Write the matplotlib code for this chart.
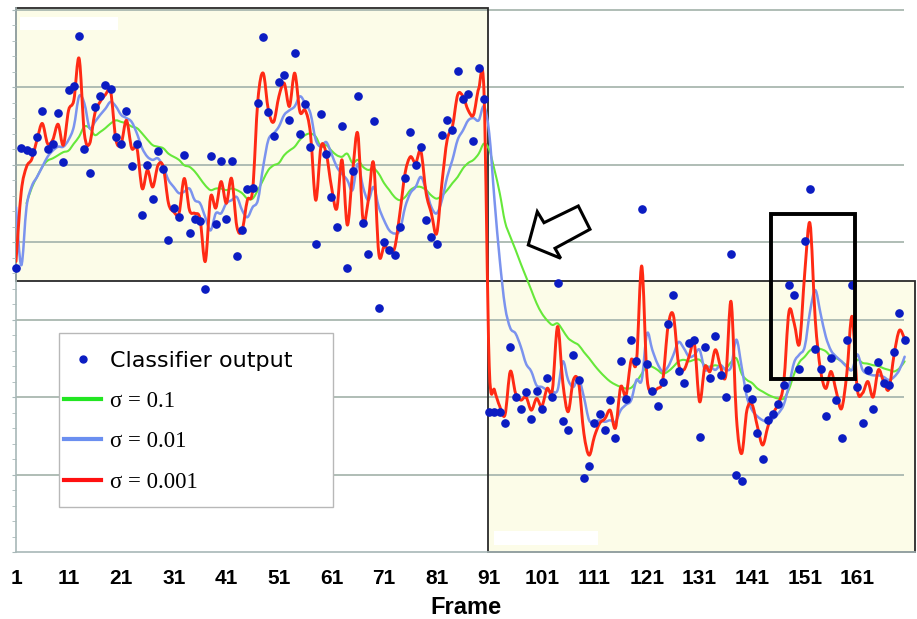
import numpy as np
import matplotlib.pyplot as plt
from matplotlib.patches import Rectangle, Polygon, PathPatch
from matplotlib.path import Path
from matplotlib.lines import Line2D
from matplotlib.ticker import MultipleLocator

# frame numbers and values
frames = list(range(1, 171))

classifier = [
    3.66, 5.21, 5.19, 5.16, 5.35, 5.69, 5.20, 5.26, 5.66, 5.03,
    5.96, 6.01, 6.66, 5.20, 4.89, 5.74, 5.88, 6.02, 5.97, 5.36,
    5.26, 5.69, 4.98, 5.26, 4.35, 5.00, 4.56, 5.18, 4.94, 4.02,
    4.44, 4.32, 5.12, 4.12, 4.30, 4.27, 3.39, 5.11, 4.23, 5.05,
    4.30, 5.05, 3.82, 4.15, 4.68, 4.70, 5.80, 6.65, 5.68, 5.37,
    6.07, 6.15, 5.57, 6.44, 5.39, 5.78, 5.23, 3.98, 5.65, 5.13,
    4.58, 4.20, 5.50, 3.67, 4.92, 5.89, 4.25, 3.85, 5.56, 3.15,
    4.00, 3.90, 3.83, 4.20, 4.83, 5.42, 5.00, 5.23, 4.28, 4.07,
    3.97, 5.38, 5.57, 5.45, 6.21, 5.84, 5.91, 5.30, 6.25, 5.84,
    1.81, 1.81, 1.81, 1.67, 2.65, 2.00, 1.84, 2.07, 1.71, 2.08,
    1.85, 2.24, 2.00, 3.47, 1.69, 1.58, 2.54, 2.22, 0.96, 1.11,
    1.67, 1.78, 1.57, 1.96, 1.47, 2.46, 1.97, 2.74, 2.46, 4.42,
    2.43, 2.08, 1.88, 2.19, 2.94, 3.31, 2.34, 2.18, 2.70, 2.73,
    1.48, 2.65, 2.24, 2.79, 2.28, 2.00, 3.85, 1.00, 0.91, 2.11,
    1.97, 1.53, 1.20, 1.70, 1.78, 1.91, 2.15, 3.45, 3.31, 2.36,
    4.01, 4.68, 2.62, 2.36, 1.75, 2.50, 1.96, 1.47, 2.73, 3.45,
    2.13, 1.67, 2.35, 1.85, 2.45, 2.18, 2.15, 2.58, 3.09, 2.74,
]

sigma_001 = [
    3.75, 4.65, 4.97, 5.07, 5.32, 5.53, 5.27, 5.32, 5.52, 5.25,
    5.70, 5.83, 6.37, 5.40, 5.27, 5.66, 5.81, 5.90, 5.94, 5.32,
    5.27, 5.57, 5.21, 5.21, 4.69, 4.93, 4.71, 4.99, 4.97, 4.50,
    4.39, 4.37, 4.82, 4.41, 4.37, 4.30, 3.75, 4.58, 4.44, 4.78,
    4.50, 4.82, 4.20, 4.15, 4.54, 4.67, 5.83, 6.18, 5.70, 5.55,
    5.88, 6.05, 5.75, 6.18, 5.68, 5.70, 5.40, 4.54, 5.23, 5.14,
    4.71, 4.43, 5.06, 4.22, 4.89, 5.40, 4.28, 4.54, 5.02, 3.85,
    3.94, 3.90, 3.92, 4.37, 4.89, 5.10, 5.02, 5.17, 4.63, 4.37,
    4.11, 4.76, 5.32, 5.49, 5.90, 5.88, 5.70, 5.64, 5.98, 5.94,
    2.40, 2.09, 1.88, 1.77, 2.33, 2.05, 1.96, 2.00, 1.83, 1.98,
    1.88, 2.11, 2.09, 2.91, 2.18, 1.81, 2.22, 2.18, 1.53, 1.25,
    1.49, 1.66, 1.72, 1.83, 1.60, 2.13, 2.02, 2.48, 2.46, 3.69,
    2.26, 2.09, 2.11, 2.22, 2.91, 3.06, 2.43, 2.35, 2.52, 2.69,
    1.94, 2.39, 2.33, 2.61, 2.39, 2.28, 3.23, 1.75, 1.27, 1.83,
    1.90, 1.62, 1.38, 1.62, 1.79, 1.92, 2.18, 3.10, 2.95, 2.69,
    3.60, 4.24, 3.00, 2.35, 2.11, 2.33, 2.07, 1.85, 2.30, 3.04,
    2.10, 2.05, 2.20, 2.00, 2.35, 2.20, 2.10, 2.55, 2.86, 2.75,
]

sigma_01 = [
    4.45, 3.70, 4.45, 4.72, 4.84, 4.97, 5.10, 5.18, 5.23, 5.23,
    5.32, 5.49, 5.88, 5.79, 5.47, 5.55, 5.64, 5.72, 5.81, 5.75,
    5.64, 5.60, 5.55, 5.40, 5.21, 5.10, 5.06, 5.08, 4.97, 4.80,
    4.71, 4.63, 4.65, 4.69, 4.54, 4.50, 4.32, 4.15, 4.37, 4.37,
    4.50, 4.54, 4.58, 4.41, 4.32, 4.45, 4.54, 4.97, 5.32, 5.40,
    5.49, 5.64, 5.70, 5.75, 5.88, 5.79, 5.66, 5.32, 5.23, 5.29,
    5.14, 4.97, 4.88, 4.80, 4.67, 5.01, 4.71, 4.54, 4.71, 4.45,
    4.28, 4.15, 4.11, 4.15, 4.45, 4.63, 4.71, 4.84, 4.67, 4.45,
    4.37, 4.54, 4.84, 5.06, 5.32, 5.44, 5.57, 5.60, 5.57, 5.75,
    5.40, 4.54, 3.77, 3.17, 2.89, 2.82, 2.65, 2.43, 2.33, 2.15,
    2.13, 2.09, 2.07, 2.09, 2.46, 2.22, 2.13, 2.24, 2.00, 1.70,
    1.68, 1.70, 1.68, 1.70, 1.68, 1.83, 1.90, 1.96, 2.22, 2.22,
    2.82, 2.61, 2.43, 2.33, 2.39, 2.54, 2.71, 2.63, 2.52, 2.54,
    2.61, 2.35, 2.39, 2.35, 2.41, 2.35, 2.39, 2.74, 2.39, 2.00,
    1.83, 1.75, 1.70, 1.68, 1.72, 1.79, 1.90, 2.15, 2.45, 2.55,
    2.65, 3.10, 3.38, 3.08, 2.78, 2.60, 2.52, 2.46, 2.39, 2.35,
    2.55, 2.35, 2.30, 2.28, 2.28, 2.26, 2.22, 2.26, 2.35, 2.52,
]

sigma_1 = [
    np.nan, np.nan, 4.50, 4.70, 4.84, 4.97, 5.05, 5.08, 5.12, 5.16,
    5.18, 5.27, 5.36, 5.49, 5.47, 5.38, 5.42, 5.47, 5.53, 5.57,
    5.55, 5.53, 5.49, 5.47, 5.40, 5.32, 5.25, 5.23, 5.21, 5.14,
    5.10, 5.06, 4.99, 4.97, 4.91, 4.82, 4.73, 4.67, 4.69, 4.69,
    4.67, 4.69, 4.67, 4.63, 4.56, 4.56, 4.67, 4.80, 4.93, 4.99,
    5.02, 5.12, 5.18, 5.23, 5.32, 5.38, 5.40, 5.36, 5.23, 5.25,
    5.18, 5.12, 5.10, 5.14, 5.02, 5.06, 4.97, 4.93, 4.95, 4.88,
    4.76, 4.67, 4.58, 4.54, 4.58, 4.67, 4.71, 4.71, 4.67, 4.60,
    4.56, 4.60, 4.67, 4.76, 4.84, 4.95, 5.02, 5.06, 5.14, 5.27,
    5.19, 4.93, 4.63, 4.26, 4.07, 3.90, 3.72, 3.55, 3.38, 3.21,
    3.08, 2.99, 2.93, 2.95, 2.86, 2.76, 2.71, 2.67, 2.58, 2.50,
    2.41, 2.33, 2.26, 2.20, 2.16, 2.13, 2.11, 2.12, 2.20, 2.30,
    2.41, 2.39, 2.35, 2.30, 2.33, 2.39, 2.46, 2.48, 2.46, 2.48,
    2.48, 2.41, 2.39, 2.41, 2.39, 2.37, 2.45, 2.50, 2.30, 2.22,
    2.18, 2.11, 2.07, 2.03, 2.00, 1.98, 1.98, 2.10, 2.30, 2.45,
    2.52, 2.60, 2.63, 2.62, 2.59, 2.52, 2.50, 2.46, 2.40, 2.35,
    2.48, 2.44, 2.43, 2.41, 2.40, 2.37, 2.35, 2.33, 2.37, 2.46,
]

tick_frames = list(range(1, 171, 10))
tick_labels = [str(t) for t in tick_frames]

dot_color = '#0b1cc2'
green = '#66e83a'
blue = '#7b93ee'
red = '#ff2a14'
box_fill = '#fcfce8'
grid_col = '#a9b8b0'


def smooth_line(ax, x, y, **kw):
    # draw the series as a smoothed curve through its points (like a spreadsheet "smoothed line")
    P = np.array([(a, b) for a, b in zip(x, y) if not np.isnan(b)])
    verts, codes = [P[0]], [Path.MOVETO]
    n = len(P)
    for i in range(n - 1):
        p0 = P[max(i - 1, 0)]
        p1, p2 = P[i], P[i + 1]
        p3 = P[min(i + 2, n - 1)]
        verts += [p1 + (p2 - p0) / 6, p2 - (p3 - p1) / 6, p2]
        codes += [Path.CURVE4] * 3
    ax.add_patch(PathPatch(Path(verts, codes), fill=False, capstyle='round',
                           joinstyle='round', **kw))


fig = plt.figure(figsize=(9.17, 6.19), dpi=100)
ax = fig.add_axes([16 / 917, 67 / 619, 899 / 917, 544 / 619])
ax.set_xlim(1, 171.97)
ax.set_ylim(0, 7.02)

split = 90.85
# shaded regions (fill then border)
ax.add_patch(Rectangle((1, 3.5), split - 1, 3.52, facecolor=box_fill, edgecolor='none', zorder=0.5))
ax.add_patch(Rectangle((split, 0), 171.97 - split, 3.5, facecolor=box_fill, edgecolor='none', zorder=0.5))
ax.add_patch(Rectangle((1.8, 6.74), 18.6, 0.16, facecolor='white', edgecolor='none', zorder=0.8))
ax.add_patch(Rectangle((91.9, 0.09), 19.8, 0.18, facecolor='white', edgecolor='none', zorder=0.8))

ax.hlines(range(1, 8), 1, 169.9, colors=grid_col, lw=1.3, zorder=1)

ax.add_patch(Rectangle((1, 3.5), split - 1, 3.52, fill=False, edgecolor='#2a2a2a', lw=1.3, zorder=1.5, clip_on=False))
ax.add_patch(Rectangle((split, 0), 171.97 - split, 3.5, fill=False, edgecolor='#2a2a2a', lw=1.3, zorder=1.5, clip_on=False))

smooth_line(ax, frames, sigma_1, edgecolor=green, lw=1.5, zorder=2)
smooth_line(ax, frames, sigma_01, edgecolor=blue, lw=1.8, zorder=3)
smooth_line(ax, frames, sigma_001, edgecolor=red, lw=2.1, zorder=4)
ax.plot(frames, classifier, 'o', ms=5.2, color=dot_color, zorder=5, clip_on=False)

# highlight box
ax.add_patch(Rectangle((144.6, 2.23), 16.0, 2.13, fill=False, edgecolor='black', lw=2.8, zorder=6))

# outlined arrow (pixel positions of the callout)
arrow_px = [(528.3, 245), (537.3, 211.7), (544, 222.7), (578.3, 206),
            (590, 229.3), (555, 248.3), (560.7, 258.3)]
arrow_fig = [(x / 917, 1 - y / 619) for x, y in arrow_px]
fig.patches.append(Polygon(arrow_fig, closed=True, facecolor='white', edgecolor='black',
                           lw=2.2, joinstyle='miter', transform=fig.transFigure, zorder=6))

# axes styling
for s in ['top', 'right']:
    ax.spines[s].set_visible(False)
ax.spines['left'].set_color('#a8b8b8')
ax.spines['bottom'].set_color('#a8b8b8')
ax.spines['left'].set_linewidth(1.2)
ax.spines['bottom'].set_linewidth(1.2)
ax.set_yticks(range(8))
ax.yaxis.set_minor_locator(MultipleLocator(0.2))
ax.tick_params(axis='y', which='both', length=3, color='#a8b8b8', labelleft=False)
ax.set_xticks(tick_frames)
ax.set_xticklabels(tick_labels, fontsize=15, fontweight='bold',
                   family=['Liberation Sans Narrow', 'Liberation Sans'])
ax.tick_params(axis='x', length=0, pad=12)
ax.set_xlabel('Frame', fontsize=17, fontweight='bold', family='Liberation Sans', labelpad=6)

# legend
ax.add_patch(Rectangle((59 / 917, 1 - 507 / 619), 274 / 917, 174 / 619, transform=fig.transFigure,
                       facecolor='white', edgecolor='#b8b8b8', lw=1.0, zorder=7))
handles = [Line2D([], [], ls='none', marker='o', ms=5, color=dot_color),
           Line2D([], [], color='#22e622', lw=3),
           Line2D([], [], color='#6b8ff0', lw=3),
           Line2D([], [], color='#ff1010', lw=3)]
labels = ['Classifier output', 'σ = 0.1', 'σ = 0.01', 'σ = 0.001']
leg = ax.legend(handles, labels, loc='upper left', bbox_to_anchor=(64 / 917, 1 - 351 / 619),
                bbox_transform=fig.transFigure, frameon=False, fontsize=16,
                handlelength=1.67, handletextpad=0.4, labelspacing=0.88,
                borderpad=0, borderaxespad=0)
leg.set_zorder(8)
texts = leg.get_texts()
texts[0].set_family('DejaVu Sans')
texts[0].set_fontsize(16)
for t in texts[1:]:
    t.set_family('Liberation Serif')
    t.set_fontsize(16.5)

fig.savefig('out.png', dpi=100)
